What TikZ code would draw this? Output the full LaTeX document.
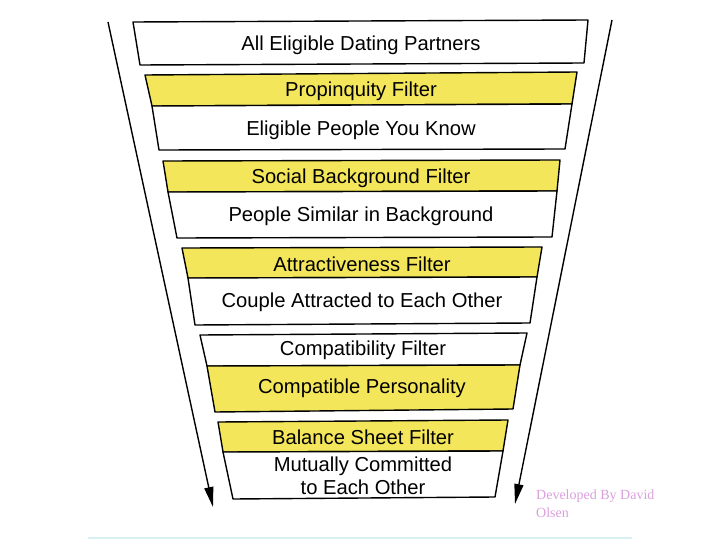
\documentclass[tikz,border=0pt]{standalone}
\usepackage{fontspec}
\setmainfont{Liberation Sans}
\newfontfamily\creditfont{Liberation Serif}
\usetikzlibrary{arrows.meta}
\definecolor{bandyellow}{RGB}{244,230,90}
\definecolor{creditpink}{RGB}{218,160,222}
\definecolor{basecyan}{RGB}{215,240,242}
\tikzset{
  band/.style={draw=black, line width=1.4pt, line join=round},
  yband/.style={band, fill=bandyellow},
  wband/.style={band, fill=white},
  bandtext/.style={font=\fontsize{20.2}{23}\selectfont, inner sep=0pt, anchor=center, align=center},
  flow/.style={line width=1.4pt, -{Triangle[length=20pt,width=9pt]}},
}
\begin{document}
\begin{tikzpicture}[x=1pt,y=-1pt]
\useasboundingbox (0,0) rectangle (720,540);
\fill[white] (0,0) rectangle (720,540);

% funnel arrows
\coordinate (ls) at (108,22);
\coordinate (le) at (213,507);
\coordinate (rs) at (612,20);
\coordinate (re) at (515,504);
\draw[flow] (ls) -- (le);
\draw[flow] (rs) -- (re);

% block 1
\draw[wband] (133,22) -- (588,20) -- (584,63) -- (140,65) -- cycle;
% block 2
\draw[yband] (145,75) -- (577,72) -- (572,104) -- (152,106) -- cycle;
\draw[wband] (152,106) -- (572,104) -- (565,149) -- (159,150) -- cycle;
% block 3
\draw[yband] (163,161) -- (560,160) -- (557,191) -- (168,192) -- cycle;
\draw[wband] (168,192) -- (557,191) -- (552,237) -- (177,238) -- cycle;
% block 4
\draw[yband] (182,248) -- (542,247) -- (537,277) -- (188,278) -- cycle;
\draw[wband] (188,278) -- (537,277) -- (530,323) -- (195,325) -- cycle;
% block 5
\draw[wband] (200,335) -- (527,333) -- (520,365) -- (207,366) -- cycle;
\draw[yband] (207,366) -- (520,365) -- (513,409) -- (215,412) -- cycle;
% block 6
\draw[yband] (218,422) -- (508,420) -- (503,451) -- (223,452) -- cycle;
\draw[wband] (223,452) -- (503,451) -- (495,497) -- (233,499) -- cycle;

% texts
\node[bandtext] (t1) at (361,45) {All Eligible Dating Partners};
\node[bandtext] (t2) at (361,91) {Propinquity Filter};
\node[bandtext] (t3) at (361,130) {Eligible People You Know};
\node[bandtext] (t4) at (361,178) {Social Background Filter};
\node[bandtext] (t5) at (361,216) {People Similar in Background};
\node[bandtext] (t6) at (362,264) {Attractiveness Filter};
\node[bandtext] (t7) at (362,302) {Couple Attracted to Each Other};
\node[bandtext] (t8) at (363,350) {Compatibility Filter};
\node[bandtext] (t9) at (362,388) {Compatible Personality};
\node[bandtext] (t10) at (363,437) {Balance Sheet Filter};
\node[bandtext] (t11) at (363,476) {Mutually Committed\\to Each Other};

% credit
\node[anchor=north west, inner sep=0pt, align=left, text=creditpink,
      font=\creditfont\fontsize{14}{18}\selectfont] (credit) at (536,490)
      {Developed By David\\Olsen};

% faint base line
\draw[draw=basecyan, line width=1.5pt] (88,538) -- (632,538);
\end{tikzpicture}
\end{document}
